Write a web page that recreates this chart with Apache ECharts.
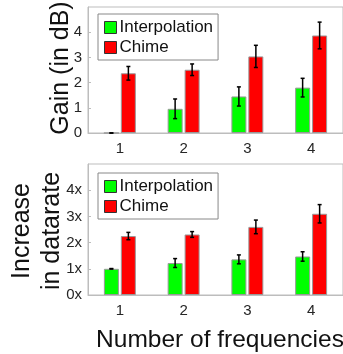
<!DOCTYPE html>
<html>
<head>
<meta charset="utf-8">
<script src="https://cdn.jsdelivr.net/npm/echarts@6/dist/echarts.min.js"></script>
<style>
  html, body { margin: 0; padding: 0; background: #fff; }
  #main { width: 343px; height: 354px; }
</style>
</head>
<body>
<div id="main"></div>
<script>
var categories = ['1', '2', '3', '4'];
// top: gain in dB
var gainInterp = [0, 0.96, 1.45, 1.8];
var gainInterpErr = [0, 0.39, 0.38, 0.37];
var gainChime = [2.37, 2.51, 3.04, 3.87];
var gainChimeErr = [0.27, 0.23, 0.44, 0.53];
// bottom: increase in datarate
var rateInterp = [1.0, 1.22, 1.36, 1.47];
var rateInterpErr = [0.01, 0.17, 0.17, 0.18];
var rateChime = [2.25, 2.31, 2.6, 3.1];
var rateChimeErr = [0.14, 0.11, 0.26, 0.35];

var chart = echarts.init(document.getElementById('main'));
var FONT = '"Liberation Sans", Arial, sans-serif';
var AXC = '#bdbdbd';

function errData(vals, errs) {
    return vals.map(function (v, i) { return [i, v - errs[i], v + errs[i]]; });
}

function errSeries(idx, vals, errs, shift) {
    return {
        type: 'custom',
        xAxisIndex: idx,
        yAxisIndex: idx,
        z: 10,
        silent: true,
        data: errData(vals, errs),
        renderItem: function (params, api) {
            var lo = api.coord([api.value(0), api.value(1)]);
            var hi = api.coord([api.value(0), api.value(2)]);
            var x = lo[0] + shift;
            var cap = 2;
            var st = { stroke: '#000', lineWidth: 1.5 };
            return {
                type: 'group',
                children: [
                    { type: 'line', shape: { x1: x, y1: lo[1], x2: x, y2: hi[1] }, style: st },
                    { type: 'line', shape: { x1: x - cap, y1: lo[1], x2: x + cap, y2: lo[1] }, style: st },
                    { type: 'line', shape: { x1: x - cap, y1: hi[1], x2: x + cap, y2: hi[1] }, style: st }
                ]
            };
        }
    };
}

function barSeries(idx, name, vals, color) {
    return {
        name: name,
        type: 'bar',
        xAxisIndex: idx,
        yAxisIndex: idx,
        barWidth: 15,
        barGap: '13%',
        data: vals,
        itemStyle: { color: color, borderColor: '#999', borderWidth: 1 }
    };
}

function xAxis(idx) {
    return {
        type: 'category',
        gridIndex: idx,
        data: categories,
        axisLine: { lineStyle: { color: AXC } },
        axisTick: { show: false },
        axisLabel: { color: '#262626', fontSize: 15, fontFamily: FONT, margin: 8 }
    };
}

function yAxis(idx, fmt) {
    return {
        type: 'value',
        gridIndex: idx,
        min: 0,
        max: 5,
        interval: 1,
        axisLine: { show: true, lineStyle: { color: AXC } },
        axisTick: { show: true, inside: true, length: 3, lineStyle: { color: AXC } },
        splitLine: { show: false },
        axisLabel: {
            color: '#262626', fontSize: 15, fontFamily: FONT, margin: 6,
            showMaxLabel: false, formatter: fmt
        }
    };
}

function legend(top) {
    return {
        orient: 'vertical',
        left: 98,
        top: top,
        icon: 'rect',
        itemWidth: 12,
        itemHeight: 12,
        itemGap: 3,
        padding: [5, 5, 4, 6],
        borderColor: '#888',
        borderWidth: 1,
        backgroundColor: '#fff',
        textStyle: { fontSize: 17, fontFamily: FONT, color: '#111', padding: [0, 0, 0, -2] },
        data: [
            { name: 'Interpolation', itemStyle: { borderColor: '#333', borderWidth: 1 } },
            { name: 'Chime', itemStyle: { borderColor: '#333', borderWidth: 1 } }
        ]
    };
}

var option = {
    animation: false,
    textStyle: { fontFamily: FONT },
    title: {
        text: 'Number of frequencies', left: 215, top: 323, textAlign: 'center',
        textStyle: { fontSize: 24.5, fontWeight: 'normal', color: '#111', fontFamily: FONT }
    },
    graphic: [
        {
            type: 'text', x: 37, y: 231, rotation: Math.PI / 2,
            style: {
                text: 'Increase\nin datarate', fontSize: 25, fontFamily: FONT, fill: '#111',
                align: 'center', verticalAlign: 'middle', lineHeight: 30
            }
        },
        {
            type: 'text', x: 61, y: 68, rotation: Math.PI / 2,
            style: {
                text: 'Gain (in dB)', fontSize: 25, fontFamily: FONT, fill: '#111',
                align: 'center', verticalAlign: 'middle'
            }
        }
    ],
    legend: [legend(14), legend(173)],
    grid: [
        { left: 88, top: 7, width: 260, height: 126, show: true, borderColor: AXC, borderWidth: 1 },
        { left: 88, top: 164, width: 260, height: 131, show: true, borderColor: AXC, borderWidth: 1 }
    ],
    xAxis: [xAxis(0), xAxis(1)],
    yAxis: [yAxis(0, '{value}'), yAxis(1, '{value}x')],
    series: [
        barSeries(0, 'Interpolation', gainInterp, '#00ff00'),
        barSeries(0, 'Chime', gainChime, '#ff0000'),
        barSeries(1, 'Interpolation', rateInterp, '#00ff00'),
        barSeries(1, 'Chime', rateChime, '#ff0000'),
        errSeries(0, gainInterp, gainInterpErr, -8.5),
        errSeries(0, gainChime, gainChimeErr, 8.5),
        errSeries(1, rateInterp, rateInterpErr, -8.5),
        errSeries(1, rateChime, rateChimeErr, 8.5)
    ]
};
chart.setOption(option);
window.addEventListener('resize', chart.resize);
</script>
</body>
</html>
